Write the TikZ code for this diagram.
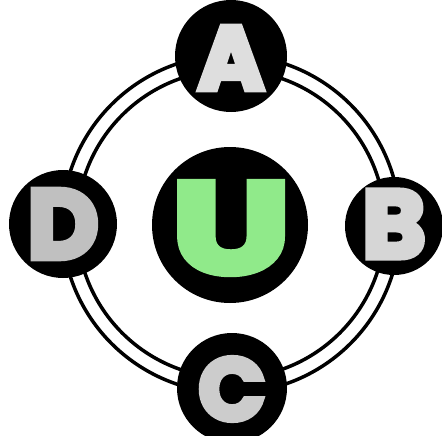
\documentclass[tikz,border=0pt]{standalone}
\usepackage{fontspec}
\newfontfamily\letterfont[FakeBold=6]{Poppins}
\begin{document}
\begin{tikzpicture}[x=1pt,y=-1pt,
    glyph/.style={inner sep=0pt,font=\letterfont\bfseries\fontsize{#1}{#1}\selectfont}]
  \useasboundingbox (0,0) rectangle (442,436);
  \coordinate (mid) at (231,224);
  \draw[line width=3.5pt] (mid) circle[radius=169];
  \draw[line width=3.5pt] (mid) circle[radius=154];
  % black discs
  \foreach \pos/\rad in {(231,56)/56,(394,226)/49,(232,388)/55,(63,224)/54,(230,225)/78}
    \fill \pos circle[radius=\rad];
  \node[glyph=90,text={rgb,255:red,222;green,222;blue,222}] (a) at (231,58) {A};
  \node[glyph=96,text={rgb,255:red,214;green,214;blue,214}] (b) at (394,224) {B};
  \node[glyph=88,text={rgb,255:red,204;green,204;blue,204}] (c) at (232,389) {C};
  \node[glyph=98,text={rgb,255:red,192;green,192;blue,192}] (d) at (63,224) {D};
  \node[glyph=128,xscale=1.3,text={rgb,255:red,144;green,234;blue,138}] (u) at (231,228) {U};
\end{tikzpicture}
\end{document}
